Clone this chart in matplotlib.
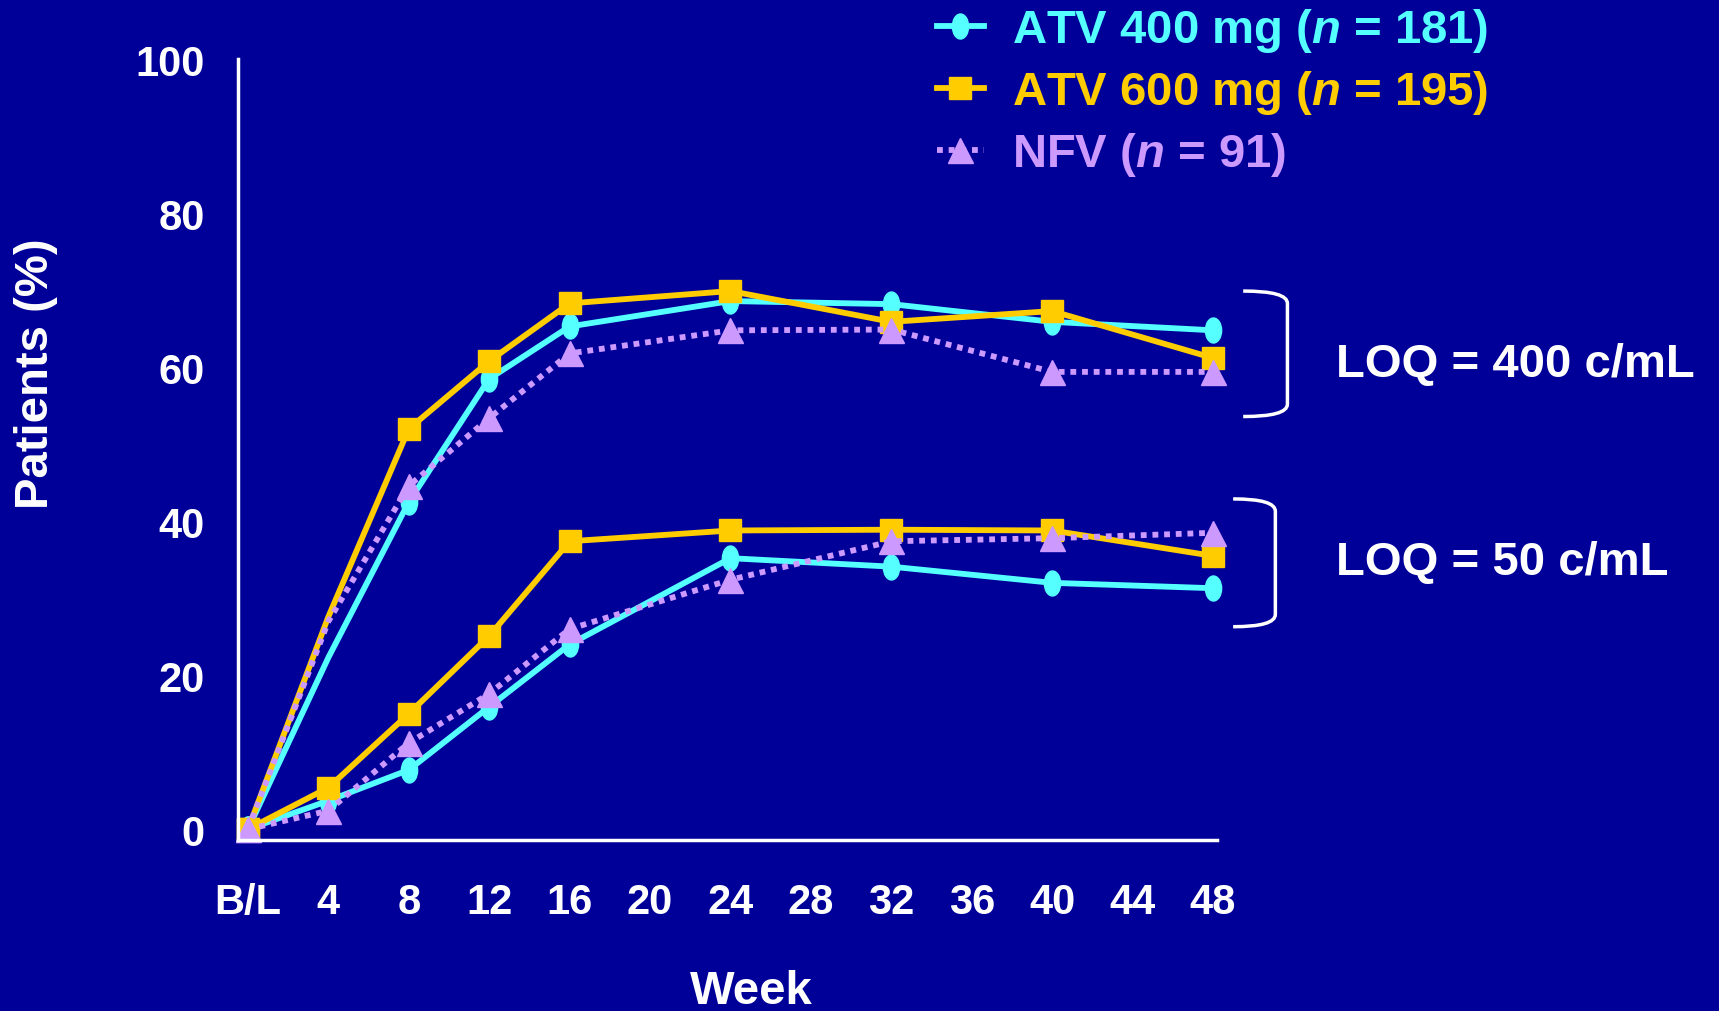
import matplotlib
matplotlib.use("Agg")
import matplotlib.pyplot as plt
import matplotlib.path as mpath
import matplotlib.patches as mpatches
from matplotlib.lines import Line2D

plt.rcParams["font.family"] = ["Liberation Sans", "DejaVu Sans"]
plt.rcParams["font.weight"] = "bold"
plt.rcParams["mathtext.fontset"] = "custom"
plt.rcParams["mathtext.it"] = "Liberation Sans:italic:bold"
plt.rcParams["mathtext.rm"] = "Liberation Sans:bold"

BG = "#000099"
CYAN = "#55FFFF"
GOLD = "#FFCC00"
LILAC = "#CC99FF"

weeks = [0, 4, 8, 12, 16, 24, 32, 40, 48]
xtick_pos = list(range(0, 49, 4))
xtick_labels = ["B/L"] + [str(w) for w in range(4, 49, 4)]

# LOQ = 400 c/mL
atv400_loq400 = [0, 22.3, 42.5, 58.5, 65.3, 68.6, 68.2, 65.9, 64.8]
atv600_loq400 = [0, 27.6, 52.0, 60.8, 68.3, 69.9, 65.9, 67.3, 61.2]
nfv_loq400 = [0, 27.0, 44.6, 53.4, 61.8, 64.8, 64.9, 59.4, 59.4]
# LOQ = 50 c/mL
atv400_loq50 = [0, 3.7, 7.7, 15.9, 24.0, 35.2, 34.1, 32.0, 31.3]
atv600_loq50 = [0, 5.4, 15.0, 25.1, 37.4, 38.8, 38.9, 38.8, 35.5]
nfv_loq50 = [0, 2.4, 11.2, 17.6, 26.0, 32.4, 37.4, 37.8, 38.5]

labels = ["ATV 400 mg ($n$ = 181)", "ATV 600 mg ($n$ = 195)", "NFV ($n$ = 91)"]

# tall ellipse marker
circ = mpath.Path.unit_circle()
ellipse = mpath.Path(circ.vertices * [0.65, 1.0], circ.codes)

styles = [
    dict(color=CYAN, marker=ellipse, markersize=18, linestyle="-"),
    dict(color=GOLD, marker="s", markersize=16, linestyle="-"),
    dict(color=LILAC, marker="^", markersize=18, linestyle=(0, (1, 1))),
]

fig = plt.figure(figsize=(17.19, 10.12), dpi=100, facecolor=BG)
ax = fig.add_axes([0.1384, 0.169, 0.5696, 0.7714])
ax.set_facecolor(BG)

upper = [atv400_loq400, atv600_loq400, nfv_loq400]
lower = [atv400_loq50, atv600_loq50, nfv_loq50]
no_wk4 = [0, 2, 3, 4, 5, 6, 7, 8]
for st, up, lo in zip(styles, upper, lower):
    ax.plot(weeks, up, linewidth=4.2, markevery=no_wk4, clip_on=False, **st)
    ax.plot(weeks, lo, linewidth=4.2, clip_on=False, **st)

ax.set_xlim(-0.5, 48.2)
ax.set_ylim(-1.4, 100)
ax.set_xticks(xtick_pos)
ax.set_xticklabels(xtick_labels)
ax.set_yticks(range(0, 101, 20))
ax.tick_params(axis="both", colors="white", labelsize=30, length=0)
ax.tick_params(axis="x", pad=30)
ax.tick_params(axis="y", pad=24)
for lab in ax.get_xticklabels() + ax.get_yticklabels():
    lab.set_fontweight("bold")
for side in ["top", "right"]:
    ax.spines[side].set_visible(False)
for side in ["left", "bottom"]:
    ax.spines[side].set_color("white")
    ax.spines[side].set_linewidth(2.5)

fig.text(751 / 1719, 1 - 992 / 1012, "Week", color="white", fontsize=34,
         fontweight="bold", ha="center", va="center")
fig.text(36 / 1719, 1 - 374 / 1012, "Patients (%)", color="white", fontsize=34,
         fontweight="bold", ha="center", va="center", rotation=90)


def bracket(xl, xr, yt, yb, r):
    verts = [(xl, yt), (xr, yt), (xr, yt - r), (xr, yb + r), (xr, yb), (xl, yb)]
    codes = [mpath.Path.MOVETO, mpath.Path.CURVE3, mpath.Path.CURVE3,
             mpath.Path.LINETO, mpath.Path.CURVE3, mpath.Path.CURVE3]
    p = mpatches.PathPatch(mpath.Path(verts, codes), fill=False, edgecolor="white",
                           linewidth=2.5, clip_on=False)
    ax.add_patch(p)


bracket(49.5, 51.7, 69.9, 53.6, 1.6)
bracket(49.0, 51.1, 42.9, 26.3, 1.6)
ax.text(54.1, 60.4, "LOQ = 400 c/mL", color="white", fontsize=34, fontweight="bold",
        va="center", ha="left", clip_on=False)
ax.text(54.1, 34.7, "LOQ = 50 c/mL", color="white", fontsize=34, fontweight="bold",
        va="center", ha="left", clip_on=False)

handles = [Line2D([], [], linewidth=4.2, **st) for st in styles]
leg = fig.legend(handles, labels, loc="upper left", bbox_to_anchor=(0.545, 0.993),
                 frameon=False, handlelength=1.0, handletextpad=0.6,
                 labelspacing=0.3, borderpad=0, borderaxespad=0, numpoints=1,
                 prop={"weight": "bold", "size": 34})
for txt, c in zip(leg.get_texts(), [CYAN, GOLD, LILAC]):
    txt.set_color(c)

fig.savefig("out.png", dpi=100, facecolor=BG)
